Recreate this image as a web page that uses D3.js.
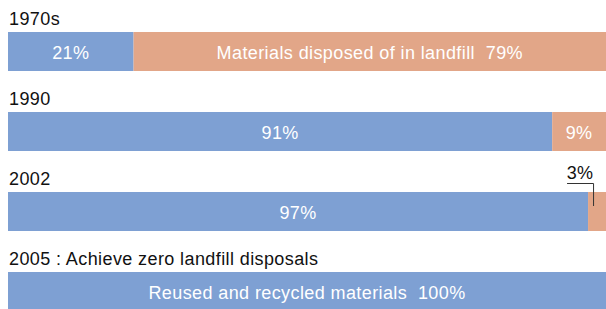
<html>
<head>
<script src="https://d3js.org/d3.v7.min.js"></script>
<style>
body { margin: 0; background: #fff; }
text { font-family: "Liberation Sans", Arial, sans-serif; white-space: pre; letter-spacing: 0.4px; }
</style>
</head>
<body>
<svg width="606" height="309"></svg>
<script>
// rows of the chart, top to bottom
var rows = ["1970s", "1990", "2002", "2005 : Achieve zero landfill disposals"];
var recycled = [21, 91, 97, 100];
var landfill = [79, 9, 3, 0];
var recycledLabels = ["21%", "91%", "97%", "Reused and recycled materials  100%"];
var landfillLabels = ["Materials disposed of in landfill  79%", "9%", "3%", ""];

var blue = "#7ea0d3", orange = "#e2a688";

var svg = d3.select("svg");
var x = d3.scaleLinear().domain([0, 100]).range([8, 606]);
var y = d3.scaleBand().domain(rows).range([0, 320]);
var barTop = 32, barH = 39, fs = 18;

var g = svg.selectAll("g.row").data(rows).enter().append("g")
  .attr("class", "row")
  .attr("transform", function(d) { return "translate(0," + y(d) + ")"; });

// row titles
g.append("text")
  .attr("x", 9).attr("y", 25)
  .attr("font-size", fs).attr("fill", "#111")
  .text(function(d) { return d; });

// recycled part
g.append("rect")
  .attr("x", x(0)).attr("y", barTop)
  .attr("width", function(d, i) { return x(recycled[i]) - x(0); })
  .attr("height", barH).attr("fill", blue);

// landfill part
g.append("rect")
  .attr("x", function(d, i) { return x(recycled[i]); }).attr("y", barTop)
  .attr("width", function(d, i) { return x(recycled[i] + landfill[i]) - x(recycled[i]); })
  .attr("height", barH).attr("fill", orange);

g.append("text")
  .attr("x", function(d, i) { return (x(0) + x(recycled[i])) / 2; })
  .attr("y", barTop + 27)
  .attr("text-anchor", "middle").attr("font-size", fs).attr("fill", "#fff")
  .text(function(d, i) { return recycledLabels[i]; });

// landfill labels: inside when wide enough, else above with a leader line
g.each(function(d, i) {
  if (!landfillLabels[i]) return;
  var sel = d3.select(this);
  var x0 = x(recycled[i]), x1 = x(recycled[i] + landfill[i]);
  if (landfill[i] >= 5) {
    sel.append("text")
      .attr("x", (x0 + x1) / 2).attr("y", barTop + 27)
      .attr("text-anchor", "middle").attr("font-size", fs).attr("fill", "#fff")
      .text(landfillLabels[i]);
  } else {
    var lx = x0 + 5;
    sel.append("text")
      .attr("x", lx - 13).attr("y", 19)
      .attr("text-anchor", "middle").attr("font-size", fs).attr("fill", "#111")
      .text(landfillLabels[i]);
    sel.append("path")
      .attr("d", "M" + (lx - 26) + ",23.5H" + (lx + 0.5) + "V46")
      .attr("fill", "none").attr("stroke", "#333").attr("stroke-width", 1);
  }
});
</script>
</body>
</html>
